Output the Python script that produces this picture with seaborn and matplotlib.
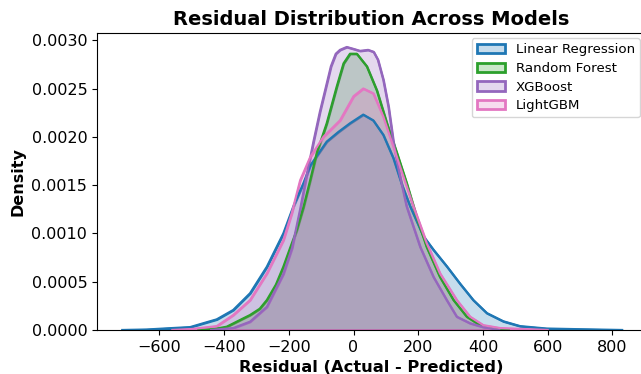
import numpy as np
import pandas as pd
import seaborn as sns
import matplotlib
matplotlib.use("Agg")
import matplotlib.pyplot as plt
from matplotlib.colors import to_rgba
from matplotlib.patches import Patch

# Density curves (residual value, density)
models = ["Linear Regression", "Random Forest", "XGBoost", "LightGBM"]
colors = ["#1f77b4", "#2ca02c", "#9467bd", "#e377c2"]

lr_x = [-715, -640, -560, -505, -454, -423, -372, -320, -268, -217, -186, -155, -134, -114,
        -83, -47, -11, 30, 61, 92, 123, 150, 175, 216, 247, 288, 329, 370, 412, 463, 515, 597,
        700, 830]
lr_d = [0.0, 0.000005, 0.00002, 0.00003, 0.00008, 0.00011, 0.000207, 0.00038, 0.000655, 0.001,
        0.00128, 0.00152, 0.0017, 0.0018, 0.00195, 0.00205, 0.00214, 0.00223, 0.00217, 0.00202,
        0.00178, 0.0015, 0.00128, 0.00097, 0.00083, 0.00066, 0.00048, 0.00031, 0.000175,
        0.00009, 0.00004, 0.000015, 0.000008, 0.0]

rf_x = [-480, -430, -392, -341, -320, -290, -268, -240, -217, -196, -176, -155, -134, -114,
        -83, -52, -31, -11, 10, 41, 72, 103, 133, 164, 195, 226, 267, 309, 350, 391, 440, 480]
rf_d = [0.0, 0.00001, 0.000034, 0.00012, 0.000155, 0.00022, 0.00031, 0.00047, 0.000655, 0.00085,
        0.00103, 0.00127, 0.00155, 0.00183, 0.00214, 0.00252, 0.00276, 0.00286, 0.00286, 0.00273,
        0.00248, 0.00214, 0.00184, 0.00152, 0.00117, 0.00086, 0.00055, 0.00031, 0.000138,
        0.00005, 0.00001, 0.0]

xgb_x = [-440, -372, -320, -268, -217, -190, -165, -145, -124, -104, -83, -70, -55, -42, -21,
         0, 20, 45, 62, 75, 92, 108, 123, 140, 164, 206, 247, 288, 319, 360, 401, 450]
xgb_d = [0.0, 0.00002, 0.000086, 0.00024, 0.00058, 0.00085, 0.00125, 0.0016, 0.00195, 0.00226,
         0.00255, 0.00273, 0.00286, 0.0029, 0.00293, 0.00291, 0.00289, 0.0029, 0.00288, 0.0028,
         0.00259, 0.00231, 0.00195, 0.00165, 0.00128, 0.00086, 0.00055, 0.00031, 0.000138,
         0.00007, 0.00003, 0.0]

lgb_x = [-560, -500, -423, -372, -320, -268, -217, -191, -165, -134, -93, -42, 0, 30, 61, 92,
         123, 144, 185, 226, 267, 319, 360, 401, 453, 600]
lgb_d = [0.0, 0.00001, 0.00004, 0.000155, 0.00031, 0.000587, 0.00093, 0.00121, 0.00155, 0.00179,
         0.002, 0.00217, 0.00242, 0.0025, 0.00245, 0.00221, 0.0019, 0.00169, 0.00128, 0.0009,
         0.000587, 0.00031, 0.000138, 0.00005, 0.00002, 0.0]

curves = [(lr_x, lr_d), (rf_x, rf_d), (xgb_x, xgb_d), (lgb_x, lgb_d)]

fig = plt.figure(figsize=(6.41, 3.74), dpi=100)
ax = fig.add_axes([97 / 641, 44 / 374, 549 / 641, 297 / 374])

for name, color, (xs, ds) in zip(models, colors, curves):
    df = pd.DataFrame({"Residual": xs, "Density": ds})
    ax.fill_between(df["Residual"], df["Density"], facecolor=to_rgba(color, 0.25),
                    edgecolor=color, linewidth=1.6)
    sns.lineplot(data=df, x="Residual", y="Density", color=color, linewidth=1.6, ax=ax)

ax.set_xlim(-793, 904)
ax.set_ylim(0, 0.003075)
ax.set_xticks([-600, -400, -200, 0, 200, 400, 600, 800])
ax.set_yticks([0, 0.0005, 0.001, 0.0015, 0.002, 0.0025, 0.003])
ax.set_yticklabels([f"{v:.4f}" for v in ax.get_yticks()])
ax.tick_params(labelsize=11.5)

ax.set_title("Residual Distribution Across Models", fontsize=14, fontweight="bold")
ax.set_xlabel("Residual (Actual - Predicted)", fontsize=11.7, fontweight="bold")
ax.set_ylabel("Density", fontsize=11.5, fontweight="bold")

handles = [Patch(facecolor=to_rgba(c, 0.25), edgecolor=c, linewidth=2) for c in colors]
ax.legend(handles, models, loc="upper right", bbox_to_anchor=(640 / 641, 1 - 38 / 374),
          bbox_transform=fig.transFigure, borderaxespad=0, fontsize=9.6,
          labelspacing=0.42, handlelength=2.1, handletextpad=0.8)

fig.savefig("out.png", dpi=100)
